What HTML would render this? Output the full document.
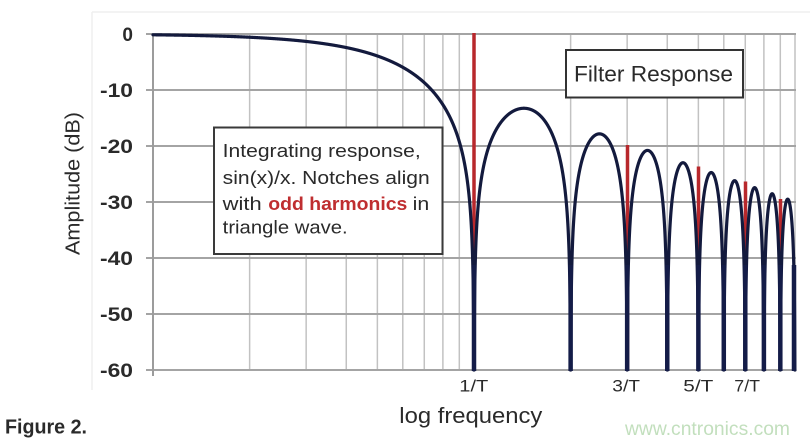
<!DOCTYPE html>
<html>
<head>
<meta charset="utf-8">
<style>
  html, body { margin: 0; padding: 0; background: #fff; }
  svg { display: block; }
  text { font-family: "Liberation Sans", Arial, sans-serif; fill: #2a2a2a; }
</style>
</head>
<body>
<svg id="chart" width="810" height="444" viewBox="0 0 810 444" xmlns="http://www.w3.org/2000/svg" xml:space="preserve">
  <rect x="0" y="0" width="810" height="444" fill="#ffffff"/>
  <!-- faint chart-area border -->
  <line x1="92" y1="12" x2="810" y2="12" stroke="#efefef" stroke-width="1.5"/>
  <line x1="92" y1="12" x2="92" y2="390" stroke="#efefef" stroke-width="1.5"/>

  <!-- vertical gridlines -->
  <g id="vgrid" stroke="#c2c2c2" stroke-width="1.5"></g>

  <!-- horizontal gridlines -->
  <g stroke="#a4a4a4" stroke-width="2">
    <line x1="146" y1="34" x2="796" y2="34"/>
    <line x1="146" y1="90" x2="796" y2="90"/>
    <line x1="146" y1="146" x2="796" y2="146"/>
    <line x1="146" y1="202" x2="796" y2="202"/>
    <line x1="146" y1="258" x2="796" y2="258"/>
    <line x1="146" y1="314" x2="796" y2="314"/>
    <line x1="146" y1="370" x2="796" y2="370"/>
  </g>
  <!-- y axis -->
  <line x1="153" y1="33" x2="153" y2="376" stroke="#9c9c9c" stroke-width="2"/>

  <!-- red harmonic lines -->
  <g stroke="#b8282c" stroke-width="3.5">
    <line x1="474" y1="33" x2="474" y2="369"/>
    <line x1="627.5" y1="145" x2="627.5" y2="369"/>
    <line x1="698.5" y1="166.5" x2="698.5" y2="369"/>
    <line x1="745.5" y1="181.5" x2="745.5" y2="369"/>
    <line x1="780.5" y1="199" x2="780.5" y2="369"/>
  </g>

  <!-- response curve -->
  <path id="curve" d="" fill="none" stroke="#131a3d" stroke-width="3.2" stroke-linejoin="round" stroke-linecap="round"/>
  <g id="notchbars" stroke="#141c48" stroke-width="4.5"></g>

  <!-- y tick labels -->
  <g font-size="19" font-weight="bold" text-anchor="end">
    <text x="133" y="41">0</text>
    <text x="133" y="97" textLength="33" lengthAdjust="spacingAndGlyphs">-10</text>
    <text x="133" y="153" textLength="33" lengthAdjust="spacingAndGlyphs">-20</text>
    <text x="133" y="209" textLength="33" lengthAdjust="spacingAndGlyphs">-30</text>
    <text x="133" y="265" textLength="33" lengthAdjust="spacingAndGlyphs">-40</text>
    <text x="133" y="321" textLength="33" lengthAdjust="spacingAndGlyphs">-50</text>
    <text x="133" y="377" textLength="33" lengthAdjust="spacingAndGlyphs">-60</text>
  </g>

  <!-- y axis title -->
  <text transform="translate(79.5,183.5) rotate(-90)" text-anchor="middle" font-size="20.5" textLength="143" lengthAdjust="spacingAndGlyphs">Amplitude (dB)</text>

  <!-- annotation box -->
  <rect x="214" y="127.5" width="228.5" height="126.5" fill="#ffffff" stroke="#3a3a3a" stroke-width="2"/>
  <g font-size="18.5">
    <text x="222.7" y="157" textLength="198" lengthAdjust="spacingAndGlyphs">Integrating response,</text>
    <text x="222.7" y="184" textLength="207" lengthAdjust="spacingAndGlyphs">sin(x)/x.  Notches align</text>
    <text x="222.7" y="210" textLength="39" lengthAdjust="spacingAndGlyphs">with</text>
    <text x="268.3" y="210" textLength="139" lengthAdjust="spacingAndGlyphs" font-weight="bold" style="fill:#bf2e30">odd harmonics</text>
    <text x="412.7" y="210" textLength="16.6" lengthAdjust="spacingAndGlyphs">in</text>
    <text x="222.7" y="233.5" textLength="125" lengthAdjust="spacingAndGlyphs">triangle wave.</text>
  </g>

  <!-- Filter Response box -->
  <rect x="566" y="50" width="177" height="47.5" fill="#ffffff" stroke="#333333" stroke-width="2"/>
  <text x="574" y="81.5" font-size="22" textLength="159" lengthAdjust="spacingAndGlyphs">Filter Response</text>

  <!-- x labels -->
  <g font-size="16.5">
    <text x="459.3" y="391.5" textLength="29" lengthAdjust="spacingAndGlyphs">1/T</text>
    <text x="612.3" y="391.5" textLength="27.7" lengthAdjust="spacingAndGlyphs">3/T</text>
    <text x="683.3" y="391.5" textLength="30" lengthAdjust="spacingAndGlyphs">5/T</text>
    <text x="734.3" y="391.5" textLength="25.7" lengthAdjust="spacingAndGlyphs">7/T</text>
  </g>
  <text x="399.3" y="423" font-size="22.5" textLength="143" lengthAdjust="spacingAndGlyphs">log frequency</text>

  <text x="5" y="433.3" font-size="20" font-weight="bold" textLength="82" lengthAdjust="spacingAndGlyphs">Figure 2.</text>
  <text x="625" y="435" font-size="19" textLength="165" lengthAdjust="spacingAndGlyphs" style="fill:#c2dfbd">www.cntronics.com</text>
</svg>
<script>
(function(){
  var X0 = 153, D = 321, Y0 = 34, S = 5.6;
  var ns = "http://www.w3.org/2000/svg";
  // vertical gridlines
  var g = document.getElementById("vgrid");
  var fs = [2,3,4,5,6,7,8,9,10,20,30,40,50,60,70,80,90,100];
  for (var i = 0; i < fs.length; i++) {
    var x = X0 + D * Math.log10(fs[i]);
    var l = document.createElementNS(ns, "line");
    l.setAttribute("x1", x.toFixed(2)); l.setAttribute("x2", x.toFixed(2));
    l.setAttribute("y1", "34"); l.setAttribute("y2", "370");
    g.appendChild(l);
  }
  // thick navy notch bottoms
  var nb = document.getElementById("notchbars");
  for (var n = 10; n <= 100; n += 10) {
    var xn = X0 + D * Math.log10(n);
    if (n === 100) xn -= 1;
    var b = document.createElementNS(ns, "line");
    b.setAttribute("x1", xn.toFixed(2)); b.setAttribute("x2", xn.toFixed(2));
    b.setAttribute("y1", "265"); b.setAttribute("y2", "371");
    nb.appendChild(b);
  }
  // curve
  var d = "";
  var end = X0 + 2 * D;
  for (var px = X0; px <= end + 0.0001; px += 0.1) {
    var f = Math.pow(10, (px - X0) / D);
    var xx = f / 10;
    var s = Math.abs(Math.sin(Math.PI * xx) / (Math.PI * xx));
    var db = 20 * Math.log10(s);
    if (!(db > -60)) db = -60;
    var y = Y0 - db * S;
    d += (d ? "L" : "M") + px.toFixed(2) + " " + y.toFixed(2);
  }
  d += "L" + end.toFixed(2) + " 370";
  document.getElementById("curve").setAttribute("d", d);
})();
</script>
</body>
</html>
